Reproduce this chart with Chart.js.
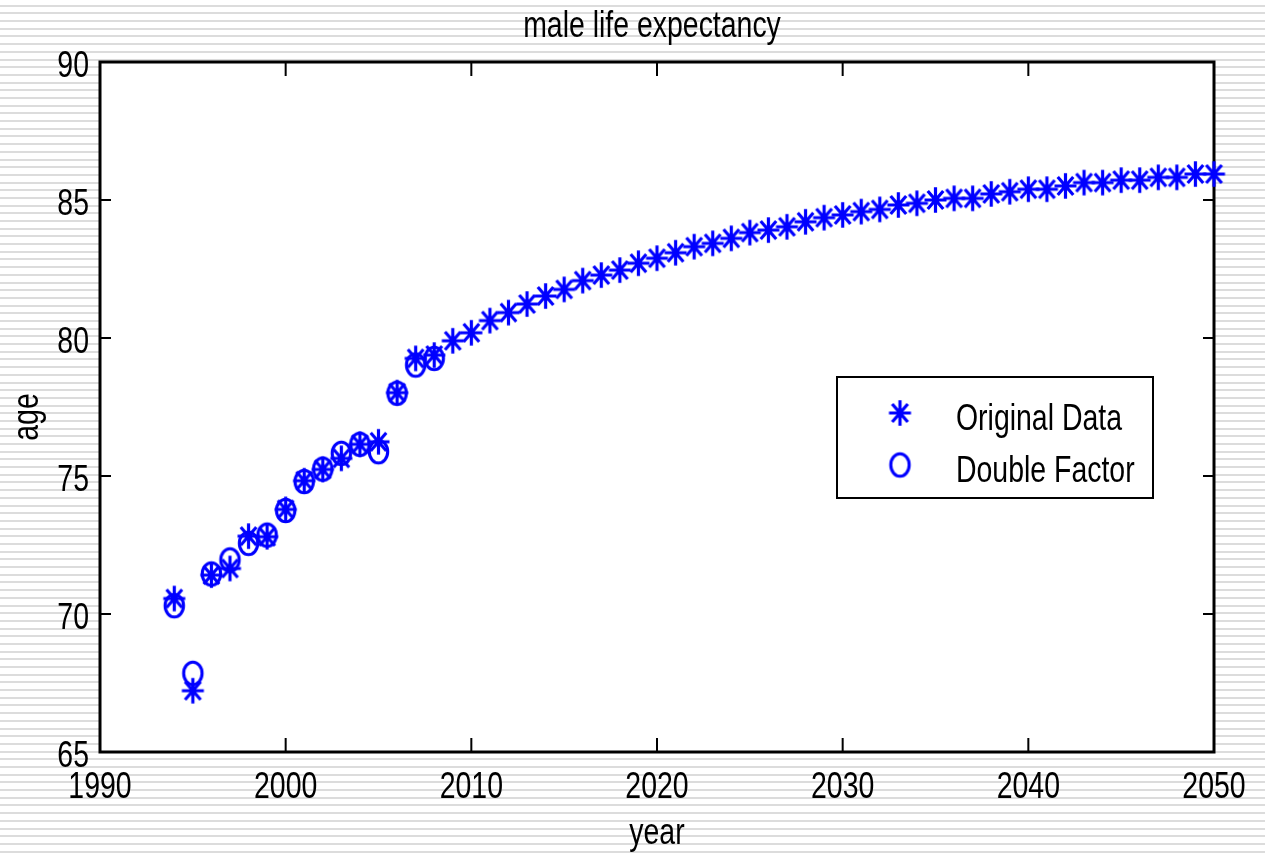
<!DOCTYPE html>
<html>
<head>
<meta charset="utf-8">
<title>male life expectancy</title>
<script src="https://cdn.jsdelivr.net/npm/chart.js@4"></script>
<style>
  html, body { margin: 0; padding: 0; }
  body {
    width: 1265px; height: 858px; overflow: hidden;
    background-color: #ffffff;
    background-image: repeating-linear-gradient(to bottom,
      #ffffff 0px, #ffffff 4.7px, #dcdcdc 4.7px, #dcdcdc 6.7px, #ffffff 6.7px, #ffffff 7.69px);
  }
  #wrap { position: absolute; left: 0; top: 0; width: 1265px; height: 858px; }
</style>
</head>
<body>
<div id="wrap"><canvas id="c" width="1265" height="858"></canvas></div>
<script>
// Projected male life expectancy, by year
const originalYears = [1994, 1995, 1996, 1997, 1998, 1999, 2000, 2001, 2002, 2003, 2004, 2005, 2006, 2007, 2008,
  2009, 2010, 2011, 2012, 2013, 2014, 2015, 2016, 2017, 2018, 2019, 2020, 2021, 2022, 2023, 2024, 2025, 2026, 2027, 2028,
  2029, 2030, 2031, 2032, 2033, 2034, 2035, 2036, 2037, 2038, 2039, 2040, 2041, 2042, 2043, 2044, 2045, 2046, 2047, 2048, 2049, 2050];
const originalAge = [70.56, 67.22, 71.41, 71.65, 72.82, 72.80, 73.79, 74.83, 75.24, 75.64, 76.15, 76.24, 78.02, 79.26, 79.38,
  79.90, 80.19, 80.63, 80.92, 81.23, 81.52, 81.76, 82.08, 82.28, 82.46, 82.71, 82.89, 83.09, 83.31, 83.43, 83.61, 83.82, 83.91, 84.03, 84.21,
  84.36, 84.46, 84.58, 84.66, 84.82, 84.88, 85.00, 85.06, 85.06, 85.22, 85.30, 85.39, 85.39, 85.51, 85.63, 85.63, 85.72, 85.72, 85.82, 85.82, 85.94, 85.94];

const doubleYears = [1994, 1995, 1996, 1997, 1998, 1999, 2000, 2001, 2002, 2003, 2004, 2005, 2006, 2007, 2008];
const doubleAge = [70.30, 67.85, 71.45, 71.96, 72.56, 72.86, 73.75, 74.80, 75.25, 75.82, 76.15, 75.88, 78.00, 79.02, 79.26];

const xTickValues = [1990, 2000, 2010, 2020, 2030, 2040, 2050];
const yTickValues = [65, 70, 75, 80, 85, 90];

const seriesNames = ['Original Data', 'Double Factor'];
const titleText = 'male life expectancy';
const xTitle = 'year';
const yTitle = 'age';

const FONT = '36px "Liberation Sans", Arial, sans-serif';
const TEXT_SQUEEZE = 0.79;   // narrow, tall lettering
const BLUE = '#0000ff';

// Slightly tall marker glyphs: an eight-armed asterisk and an open ellipse
function makeAsterisk(rx, ry, lw) {
  const c = document.createElement('canvas');
  c.width = Math.ceil(rx * 2 + lw * 2);
  c.height = Math.ceil(ry * 2 + lw * 2);
  const g = c.getContext('2d');
  const cx = c.width / 2, cy = c.height / 2;
  g.strokeStyle = BLUE; g.lineWidth = lw; g.lineCap = 'butt';
  g.beginPath();
  g.moveTo(cx, cy - ry); g.lineTo(cx, cy + ry);
  g.moveTo(cx - rx, cy); g.lineTo(cx + rx, cy);
  const d = Math.SQRT1_2;
  g.moveTo(cx - rx * d, cy - ry * d); g.lineTo(cx + rx * d, cy + ry * d);
  g.moveTo(cx - rx * d, cy + ry * d); g.lineTo(cx + rx * d, cy - ry * d);
  g.stroke();
  return c;
}
function makeRing(rx, ry, lw) {
  const c = document.createElement('canvas');
  c.width = Math.ceil(rx * 2 + lw * 2);
  c.height = Math.ceil(ry * 2 + lw * 2);
  const g = c.getContext('2d');
  g.strokeStyle = BLUE; g.lineWidth = lw;
  g.beginPath();
  g.ellipse(c.width / 2, c.height / 2, rx, ry, 0, 0, Math.PI * 2);
  g.stroke();
  return c;
}
const starMark = makeAsterisk(11, 12.8, 3.2);
const ringMark = makeRing(9.2, 11.2, 3.1);

const toPoints = (xs, ys) => xs.map((x, i) => ({ x: x, y: ys[i] }));

// text drawn horizontally condensed around its anchor
function label(ctx, str, x, y, align, rot) {
  ctx.save();
  ctx.translate(x, y);
  if (rot) ctx.rotate(rot);
  ctx.scale(TEXT_SQUEEZE, 1);
  ctx.font = FONT;
  ctx.fillStyle = '#000000';
  ctx.textAlign = align;
  ctx.textBaseline = 'alphabetic';
  ctx.fillText(str, 0, 0);
  ctx.restore();
}

// White plot area, black box frame, inward ticks, labels and legend
const framePlugin = {
  id: 'frame',
  beforeDraw(chart) {
    const { ctx, chartArea: a } = chart;
    ctx.save();
    ctx.fillStyle = '#ffffff';
    ctx.fillRect(a.left, a.top, a.right - a.left, a.bottom - a.top);
    ctx.restore();
  },
  beforeDatasetsDraw(chart) {
    const { ctx, chartArea: a, scales } = chart;
    ctx.save();
    ctx.strokeStyle = '#000000';
    ctx.lineWidth = 2;
    ctx.beginPath();
    xTickValues.forEach(v => {
      const px = scales.x.getPixelForValue(v);
      ctx.moveTo(px, a.bottom); ctx.lineTo(px, a.bottom - 14);
      ctx.moveTo(px, a.top); ctx.lineTo(px, a.top + 14);
    });
    yTickValues.forEach(v => {
      const py = scales.y.getPixelForValue(v);
      ctx.moveTo(a.left, py); ctx.lineTo(a.left + 11, py);
      ctx.moveTo(a.right, py); ctx.lineTo(a.right - 11, py);
    });
    ctx.stroke();
    ctx.lineWidth = 3;
    ctx.strokeRect(a.left, a.top, a.right - a.left, a.bottom - a.top);
    ctx.restore();

    // tick labels
    xTickValues.forEach(v => label(ctx, String(v), scales.x.getPixelForValue(v), a.bottom + 46, 'center'));
    yTickValues.forEach(v => label(ctx, String(v), a.left - 11, scales.y.getPixelForValue(v) + 15, 'right'));

    // titles
    label(ctx, titleText, (a.left + a.right) / 2 - 5, 37, 'center');
    label(ctx, xTitle, (a.left + a.right) / 2, a.bottom + 92, 'center');
    label(ctx, yTitle, 38, (a.top + a.bottom) / 2 + 10, 'center', -Math.PI / 2);
  },
  afterDraw(chart) {
    const { ctx, chartArea: a } = chart;
    // legend box
    const bx = a.right - 377, by = a.top + 315, bw = 316, bh = 121;
    ctx.save();
    ctx.fillStyle = '#ffffff';
    ctx.fillRect(bx, by, bw, bh);
    ctx.strokeStyle = '#000000';
    ctx.lineWidth = 2;
    ctx.strokeRect(bx, by, bw, bh);
    const marks = [starMark, ringMark];
    const rows = [by + 36, by + 88];
    seriesNames.forEach((name, i) => {
      const m = marks[i];
      ctx.drawImage(m, bx + 63 - m.width / 2, rows[i] - m.height / 2);
      label(ctx, name, bx + 119, rows[i] + 17, 'left');
    });
    ctx.restore();
  }
};

new Chart(document.getElementById('c'), {
  type: 'scatter',
  data: {
    datasets: [
      {
        label: seriesNames[1],
        data: toPoints(doubleYears, doubleAge),
        pointStyle: ringMark,
        pointRadius: 10,
        pointHoverRadius: 10,
        showLine: false,
        clip: false
      },
      {
        label: seriesNames[0],
        data: toPoints(originalYears, originalAge),
        pointStyle: starMark,
        pointRadius: 10,
        pointHoverRadius: 10,
        showLine: false,
        clip: false
      }
    ]
  },
  options: {
    responsive: false,
    animation: false,
    events: [],
    layout: { padding: { top: 62, right: 51, bottom: 0, left: 0 } },
    plugins: { legend: { display: false }, title: { display: false }, tooltip: { enabled: false } },
    scales: {
      x: {
        type: 'linear',
        min: 1990, max: 2050,
        afterBuildTicks(s) { s.ticks = xTickValues.map(v => ({ value: v })); },
        afterFit(s) { s.height = 106; },
        grid: { display: false, drawTicks: false },
        border: { display: false },
        ticks: { display: false },
        title: { display: false }
      },
      y: {
        type: 'linear',
        min: 65, max: 90,
        afterBuildTicks(s) { s.ticks = yTickValues.map(v => ({ value: v })); },
        afterFit(s) { s.width = 100; },
        grid: { display: false, drawTicks: false },
        border: { display: false },
        ticks: { display: false },
        title: { display: false }
      }
    }
  },
  plugins: [framePlugin]
});
</script>
</body>
</html>
